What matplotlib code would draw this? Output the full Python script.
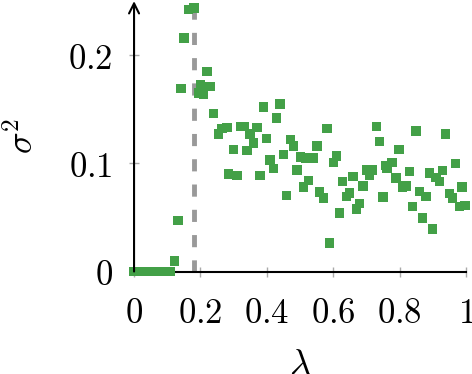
import matplotlib
matplotlib.use("Agg")
import matplotlib.pyplot as plt

plt.rcParams["mathtext.fontset"] = "cm"
plt.rcParams["font.family"] = "serif"
plt.rcParams["font.serif"] = ["DejaVu Serif"]

# lambda values and sigma^2
lam = [0.00, 0.01, 0.02, 0.03, 0.04, 0.05, 0.06, 0.07, 0.08, 0.09, 0.10, 0.11,
       0.122, 0.132, 0.141, 0.151, 0.164, 0.181, 0.194, 0.201, 0.209, 0.220,
       0.229, 0.240, 0.254, 0.265, 0.280, 0.285, 0.300, 0.310, 0.320, 0.333,
       0.340, 0.350, 0.360, 0.370, 0.380, 0.390, 0.400, 0.410, 0.420, 0.430,
       0.440, 0.450, 0.460, 0.471, 0.481, 0.491, 0.501, 0.511, 0.516, 0.526,
       0.541, 0.551, 0.559, 0.571, 0.581, 0.589, 0.601, 0.611, 0.619, 0.629,
       0.640, 0.650, 0.660, 0.670, 0.680, 0.690, 0.702, 0.710, 0.717, 0.730,
       0.740, 0.750, 0.757, 0.762, 0.777, 0.789, 0.799, 0.809, 0.820, 0.830,
       0.840, 0.850, 0.860, 0.870, 0.880, 0.890, 0.900, 0.910, 0.920, 0.930,
       0.939, 0.950, 0.960, 0.968, 0.980, 0.988, 0.998]
var = [0, 0, 0, 0, 0, 0, 0, 0, 0, 0, 0, 0,
       0.0097, 0.047, 0.169, 0.216, 0.242, 0.2435, 0.165, 0.173, 0.164, 0.185,
       0.171, 0.146, 0.127, 0.132, 0.133, 0.090, 0.113, 0.089, 0.134, 0.134,
       0.112, 0.127, 0.119, 0.133, 0.089, 0.152, 0.123, 0.103, 0.095, 0.142,
       0.155, 0.108, 0.0705, 0.122, 0.116, 0.094, 0.106, 0.078, 0.105, 0.084,
       0.105, 0.116, 0.0735, 0.068, 0.132, 0.0265, 0.101, 0.107, 0.054, 0.083,
       0.0696, 0.0726, 0.088, 0.058, 0.063, 0.079, 0.094, 0.089, 0.094, 0.134,
       0.120, 0.069, 0.098, 0.095, 0.1006, 0.0865, 0.113, 0.078, 0.079, 0.0926,
       0.060, 0.130, 0.074, 0.0496, 0.0696, 0.091, 0.0395, 0.087, 0.083, 0.0935,
       0.127, 0.072, 0.068, 0.100, 0.060, 0.078, 0.061]
threshold = 0.182

xticks = [0, 0.2, 0.4, 0.6, 0.8, 1]
xticklabels = ["$0$", "$0.2$", "$0.4$", "$0.6$", "$0.8$", "$1$"]
yticks = [0, 0.1, 0.2]
yticklabels = ["$0$", "$0.1$", "$0.2$"]

fig = plt.figure(figsize=(4.72, 3.74), dpi=100)
ax = fig.add_axes([0.284, 0.274, 0.703, 0.723])

ax.plot([threshold, threshold], [0, 0.25], color="#999999", lw=3.5,
        dashes=(2.5, 2.7), zorder=2, clip_on=False)
ax.scatter(lam, var, marker="s", s=46, color="#43A047", edgecolors="none",
           zorder=3, clip_on=False)

ax.set_xlim(0, 1)
ax.set_ylim(0, 0.25)
ax.set_xticks(xticks)
ax.set_xticklabels(xticklabels)
ax.set_yticks(yticks)
ax.set_yticklabels(yticklabels)
ax.tick_params(direction="inout", length=7, width=1, color="#aaaaaa",
               labelsize=25)
ax.tick_params(axis="x", pad=14)
ax.tick_params(axis="y", pad=12)

for side in ["top", "right", "left"]:
    ax.spines[side].set_visible(False)
ax.spines["bottom"].set_linewidth(1.5)
ax.annotate("", xy=(0, 1.0), xytext=(0, 0), xycoords="axes fraction",
            arrowprops=dict(arrowstyle="->", lw=1.5, color="black",
                            shrinkA=0, shrinkB=0, mutation_scale=18))

ax.set_xlabel(r"$\lambda$", fontsize=26, labelpad=12)
ax.set_ylabel(r"$\sigma^2$", fontsize=26, labelpad=20)

fig.savefig("out.png", dpi=100)
